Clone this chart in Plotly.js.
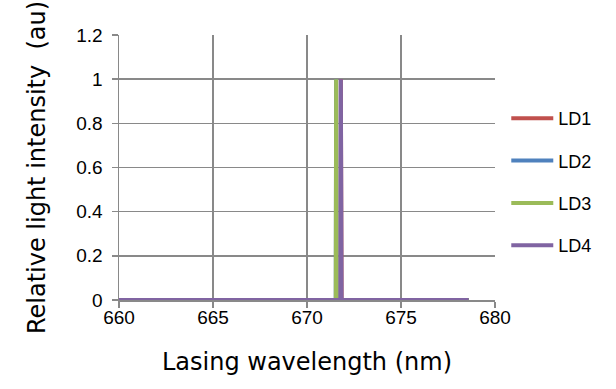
<!DOCTYPE html>
<html>
<head>
<meta charset="utf-8">
<script src="https://cdn.plot.ly/plotly-3.0.1.min.js"></script>
<style>html,body{margin:0;padding:0;background:#fff;}#chart{width:616px;height:389px;}</style>
</head>
<body>
<div id="chart"></div>
<script>
// Data (wavelength in nm, relative intensity)
const seriesNames = ["LD1", "LD2", "LD3", "LD4"];
const seriesColors = ["#C0504D", "#4F81BD", "#9BBB59", "#8064A2"];
const ld1Wavelength = [660, 671.78, 671.8, 671.84, 678.6];
const ld1Intensity  = [0, 0, 1, 0, 0];
const ld2Wavelength = [660, 671.53, 671.55, 671.57, 678.6];
const ld2Intensity  = [0, 0, 1, 0, 0];
const ld3Wavelength = [660, 671.53, 671.55, 671.57, 678.6];
const ld3Intensity  = [0, 0, 1, 0, 0];
const ld4Wavelength = [660, 671.78, 671.8, 671.84, 678.6];
const ld4Intensity  = [0, 0, 1, 0, 0];
const xTicks = [660, 665, 670, 675, 680];
const yTicks = [0, 0.2, 0.4, 0.6, 0.8, 1, 1.2];
const yTickText = ["0", "0.2", "0.4", "0.6", "0.8", "1", "1.2"];

const xs = [ld1Wavelength, ld2Wavelength, ld3Wavelength, ld4Wavelength];
const ys = [ld1Intensity, ld2Intensity, ld3Intensity, ld4Intensity];

const traces = seriesNames.map((n, i) => ({
  type: "scatter", mode: "lines", name: n, legendgroup: n,
  x: xs[i], y: ys[i],
  line: {color: seriesColors[i], width: 4}
}));

const gridColor = "#898989";
const layout = {
  width: 616, height: 389,
  margin: {l: 119, r: 121, t: 35, b: 89, pad: 0},
  paper_bgcolor: "#ffffff", plot_bgcolor: "#ffffff",
  font: {family: "Liberation Sans, Arial, sans-serif", size: 19, color: "#000"},
  showlegend: true,
  legend: {
    x: 1.03, xanchor: "left", y: 0.755, yanchor: "top",
    font: {family: "Liberation Sans, Arial, sans-serif", size: 18, color: "#000"},
    traceorder: "grouped", tracegroupgap: 16, itemwidth: 42,
    bgcolor: "rgba(0,0,0,0)", borderwidth: 0
  },
  xaxis: {
    range: [660, 680], tickvals: xTicks, ticktext: xTicks.map(String),
    showgrid: true, gridcolor: gridColor, gridwidth: 1.5,
    showline: true, linecolor: gridColor, linewidth: 1.5,
    ticks: "outside", ticklen: 6, tickcolor: gridColor, tickwidth: 1.5,
    ticklabelstandoff: -6,
    zeroline: false,
    tickfont: {family: "Liberation Sans, Arial, sans-serif", size: 19, color: "#000"},
    title: {text: "Lasing wavelength (nm)", standoff: 26,
            font: {family: "DejaVu Sans, sans-serif", size: 24, color: "#000"}}
  },
  yaxis: {
    range: [0, 1.2], tickvals: yTicks, ticktext: yTickText,
    showgrid: true, gridcolor: gridColor, gridwidth: 1.5,
    showline: true, linecolor: gridColor, linewidth: 1.5,
    ticks: "outside", ticklen: 6, tickcolor: gridColor, tickwidth: 1.5,
    ticklabelstandoff: 5,
    zeroline: false,
    tickfont: {family: "Liberation Sans, Arial, sans-serif", size: 19, color: "#000"},
    title: {text: "Relative light intensity  (au)", standoff: 24,
            font: {family: "DejaVu Sans, sans-serif", size: 24, color: "#000"}}
  }
};

Plotly.newPlot("chart", traces, layout, {displayModeBar: false, staticPlot: true});
</script>
</body>
</html>
